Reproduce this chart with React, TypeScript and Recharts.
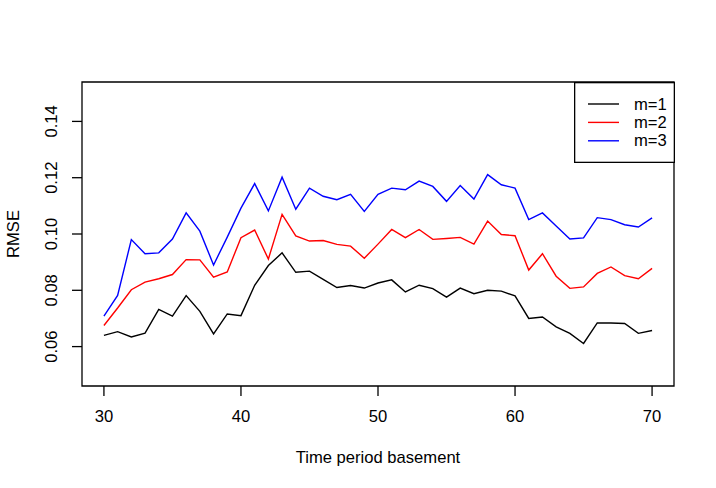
import React from 'react';
import { LineChart, Line, XAxis, YAxis, ReferenceArea, Legend, Label } from 'recharts';

const periods = [30, 31, 32, 33, 34, 35, 36, 37, 38, 39, 40, 41, 42, 43, 44, 45, 46, 47, 48, 49, 50, 51, 52, 53, 54, 55, 56, 57, 58, 59, 60, 61, 62, 63, 64, 65, 66, 67, 68, 69, 70];

const m1 = [0.0640, 0.0653, 0.0634, 0.0648, 0.0732, 0.0708, 0.0781, 0.0725, 0.0645, 0.0716,
  0.0710, 0.0818, 0.0888, 0.0933, 0.0864, 0.0868, 0.0839, 0.0810, 0.0817, 0.0808,
  0.0826, 0.0837, 0.0794, 0.0818, 0.0806, 0.0776, 0.0808, 0.0788, 0.0800, 0.0797,
  0.0780, 0.0700, 0.0705, 0.0670, 0.0647, 0.0611, 0.0684, 0.0684, 0.0682, 0.0647, 0.0657];

const m2 = [0.0675, 0.0737, 0.0802, 0.0829, 0.0841, 0.0856, 0.0909, 0.0908, 0.0847, 0.0865,
  0.0987, 0.1014, 0.0911, 0.1070, 0.0993, 0.0975, 0.0977, 0.0963, 0.0957, 0.0914,
  0.0964, 0.1016, 0.0987, 0.1016, 0.0981, 0.0984, 0.0988, 0.0964, 0.1046, 0.0998,
  0.0994, 0.0872, 0.0930, 0.0850, 0.0807, 0.0812, 0.0860, 0.0883, 0.0852, 0.0841, 0.0878];

const m3 = [0.0708, 0.0782, 0.0980, 0.0930, 0.0933, 0.0982, 0.1075, 0.1010, 0.0890, 0.0989,
  0.1092, 0.1179, 0.1082, 0.1202, 0.1088, 0.1163, 0.1134, 0.1122, 0.1141, 0.1080,
  0.1141, 0.1163, 0.1157, 0.1188, 0.1169, 0.1116, 0.1172, 0.1124, 0.1211, 0.1175,
  0.1163, 0.1051, 0.1075, 0.1028, 0.0982, 0.0986, 0.1058, 0.1051, 0.1033, 0.1025, 0.1057];

const xTicks = [30, 40, 50, 60, 70];
const yTicks = [0.06, 0.08, 0.1, 0.12, 0.14];
const xDomain = [28.4, 71.6];
const yDomain = [0.046, 0.154];

const seriesNames = ['m=1', 'm=2', 'm=3'];
const seriesKeys = ['m1', 'm2', 'm3'];
const seriesColors = ['#000000', '#FF0000', '#0000FF'];

const data = periods.map((p, i) => ({ period: p, m1: m1[i], m2: m2[i], m3: m3[i] }));

const FONT = '"Liberation Sans", Arial, Helvetica, sans-serif';
const FS = 16.6;

const XTick = (props: any) => {
  const { x, y, payload } = props;
  return (
    <text x={x} y={y + 24} textAnchor="middle" fontFamily={FONT} fontSize={FS} fill="#000">
      {String(payload.value)}
    </text>
  );
};

const YTick = (props: any) => {
  const { x, y, payload } = props;
  const tx = x - 13;
  return (
    <text x={tx} y={y} transform={`rotate(-90, ${tx}, ${y})`} textAnchor="middle" fontFamily={FONT} fontSize={FS} fill="#000">
      {Number(payload.value).toFixed(2)}
    </text>
  );
};

const YLabel = (props: any) => {
  const vb = props.viewBox || { x: 0, y: 82, width: 82, height: 304 };
  const cx = 19;
  const cy = vb.y + vb.height / 2;
  return (
    <text x={cx} y={cy} transform={`rotate(-90, ${cx}, ${cy})`} textAnchor="middle" fontFamily={FONT} fontSize={FS} fill="#000">
      RMSE
    </text>
  );
};

const XLabel = (props: any) => {
  const vb = props.viewBox || { x: 82, y: 386, width: 592, height: 102 };
  return (
    <text x={vb.x + vb.width / 2} y={vb.y + 77} textAnchor="middle" fontFamily={FONT} fontSize={FS} fill="#000">
      Time period basement
    </text>
  );
};

const LegendBox = (props: any) => {
  const payload = props.payload || [];
  return (
    <svg width={101} height={81} style={{ display: 'block' }}>
      <rect x={0.65} y={0.65} width={99.7} height={79.7} fill="#fff" stroke="#000" strokeWidth={1.3} />
      {payload.map((entry: any, i: number) => {
        const cy = 22 + i * 18.4;
        return (
          <g key={i}>
            <line x1={14} x2={45} y1={cy} y2={cy} stroke={entry.color} strokeWidth={1.4} />
            <text x={60} y={cy} dominantBaseline="central" fontFamily={FONT} fontSize={FS} fill="#000">
              {entry.value}
            </text>
          </g>
        );
      })}
    </svg>
  );
};

export default function App() {
  return (
    <div style={{ width: 716, height: 488, background: '#fff' }}>
      <style>{`body{margin:0;background:#fff}`}</style>
      <LineChart width={716} height={488} data={data} margin={{ top: 82, right: 42, left: 0, bottom: 0 }}>
        <XAxis
          dataKey="period"
          type="number"
          domain={xDomain}
          ticks={xTicks}
          height={102}
          axisLine={false}
          tickLine={{ stroke: '#000', strokeWidth: 1.3 }}
          tickSize={10}
          tick={<XTick />}
          allowDataOverflow
        >
          <Label content={<XLabel />} />
        </XAxis>
        <YAxis
          type="number"
          domain={yDomain}
          ticks={yTicks}
          width={82}
          axisLine={false}
          tickLine={{ stroke: '#000', strokeWidth: 1.3 }}
          tickSize={10}
          tick={<YTick />}
          allowDataOverflow
        >
          <Label content={<YLabel />} />
        </YAxis>
        <ReferenceArea x1={xDomain[0]} x2={xDomain[1]} y1={yDomain[0]} y2={yDomain[1]} fill="none" fillOpacity={0} stroke="#000" strokeWidth={1.3} ifOverflow="visible" />
        {seriesKeys.map((k, i) => (
          <Line key={k} type="linear" dataKey={k} name={seriesNames[i]} stroke={seriesColors[i]} strokeWidth={1.4} dot={false} activeDot={false} isAnimationActive={false} />
        ))}
        <Legend
          layout="vertical"
          align="center"
          verticalAlign="middle"
          content={<LegendBox />}
          wrapperStyle={{ left: 574, top: 82, width: 101, height: 81, right: 'auto', bottom: 'auto' }}
        />
      </LineChart>
    </div>
  );
}
